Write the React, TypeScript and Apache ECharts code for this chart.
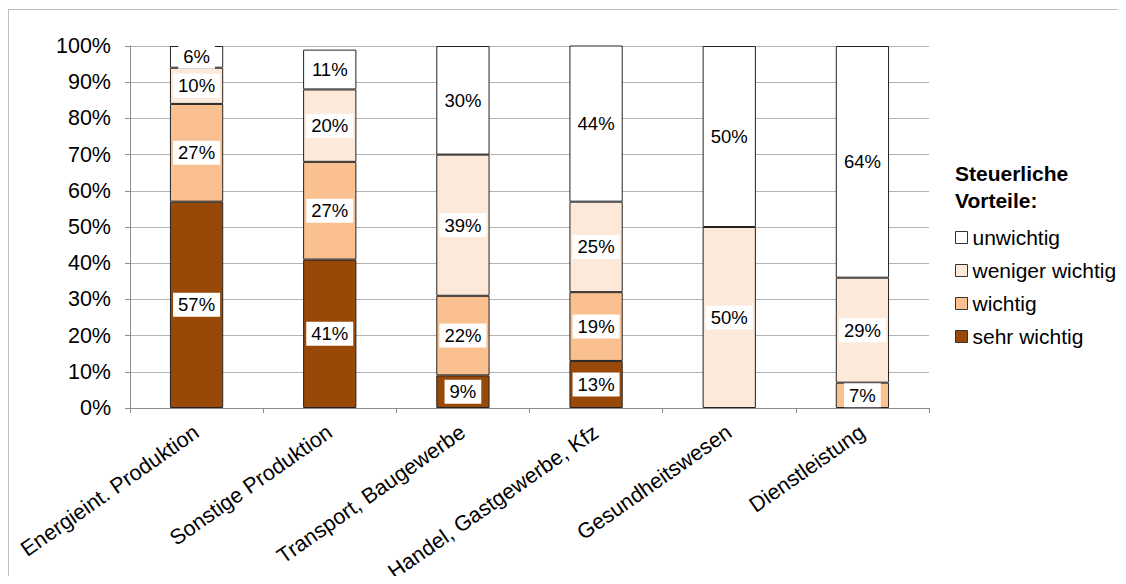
import React, { useEffect, useRef } from "react";
import * as echarts from "echarts";

// Sectors on the x axis
const categories = [
  "Energieint. Produktion",
  "Sonstige Produktion",
  "Transport, Baugewerbe",
  "Handel, Gastgewerbe, Kfz",
  "Gesundheitswesen",
  "Dienstleistung",
];

// Share of answers per rating (percent); null = no answers
const sehrWichtig = [57, 41, 9, 13, null, null];
const wichtig = [27, 27, 22, 19, null, 7];
const wenigerWichtig = [10, 20, 39, 25, 50, 29];
const unwichtig = [6, 11, 30, 44, 50, 64];

const yTicks = { min: 0, max: 100, interval: 10 };

const FONT = "'Liberation Sans', Arial, sans-serif";

const seriesDefs = [
  { name: "sehr wichtig", data: sehrWichtig, color: "#984807" },
  { name: "wichtig", data: wichtig, color: "#FAC090" },
  { name: "weniger wichtig", data: wenigerWichtig, color: "#FDE9D9" },
  { name: "unwichtig", data: unwichtig, color: "#FFFFFF" },
];

export default function App() {
  const ref = useRef<HTMLDivElement>(null);

  useEffect(() => {
    if (!ref.current) return;
    const chart = echarts.init(ref.current, null, { renderer: "svg" });
    chart.setOption({
      animation: false,
      backgroundColor: "#ffffff",
      textStyle: { fontFamily: FONT },
      grid: {
        left: 122,
        right: 197,
        top: 38,
        bottom: 176,
        containLabel: false,
        outerBoundsMode: "none",
      },
      xAxis: {
        type: "category",
        data: categories,
        axisLine: { show: true, lineStyle: { color: "#8c8c8c", width: 1 } },
        axisTick: { show: true, length: 5, lineStyle: { color: "#8c8c8c" } },
        axisLabel: {
          rotate: 35,
          margin: 22,
          fontSize: 21.5,
          color: "#000",
          fontFamily: FONT,
          interval: 0,
        },
      },
      yAxis: {
        type: "value",
        min: yTicks.min,
        max: yTicks.max,
        interval: yTicks.interval,
        axisLine: { show: true, lineStyle: { color: "#8c8c8c", width: 1 } },
        axisTick: { show: true, length: 5, lineStyle: { color: "#8c8c8c" } },
        splitLine: { lineStyle: { color: "#b3b3b3", width: 1 } },
        axisLabel: {
          formatter: "{value}%",
          fontSize: 21.5,
          margin: 19,
          color: "#000",
          fontFamily: FONT,
        },
      },
      legend: {
        orient: "vertical",
        left: 942,
        top: 214,
        data: ["unwichtig", "weniger wichtig", "wichtig", "sehr wichtig"],
        icon: "rect",
        itemWidth: 12,
        itemHeight: 12,
        itemGap: 12,
        textStyle: { fontSize: 21, color: "#000", fontFamily: FONT, lineHeight: 21 },
        itemStyle: { borderColor: "#333", borderWidth: 1 },
      },
      graphic: [
        {
          type: "text",
          left: 947,
          top: 152,
          style: {
            text: "Steuerliche\nVorteile:",
            font: `bold 21px ${FONT}`,
            lineHeight: 27,
            fill: "#000",
          },
        },
        {
          type: "line",
          shape: { x1: 0.5, y1: 1.5, x2: 0.5, y2: 600 },
          style: { stroke: "#bfbfbf", lineWidth: 1 },
        },
        {
          type: "line",
          shape: { x1: 0, y1: 1.5, x2: 1118, y2: 1.5 },
          style: { stroke: "#bfbfbf", lineWidth: 1 },
        },
      ],
      series: seriesDefs.map((s) => ({
        name: s.name,
        type: "bar",
        stack: "total",
        barWidth: "40%",
        data: s.data,
        itemStyle: { color: s.color, borderColor: "#222", borderWidth: 1 },
        label: {
          show: true,
          position: "inside",
          formatter: (p: any) => (p.value == null ? "" : `${p.value}%`),
          fontSize: 18.5,
          color: "#000",
          fontFamily: FONT,
          backgroundColor: "#ffffff",
          padding: [3, 5, 2, 5],
        },
      })),
    });
    return () => chart.dispose();
  }, []);

  // Negative bottom margin cancels the body margin so the page does not scroll
  return <div ref={ref} style={{ width: 1118, height: 576, marginBottom: -8 }} />;
}
